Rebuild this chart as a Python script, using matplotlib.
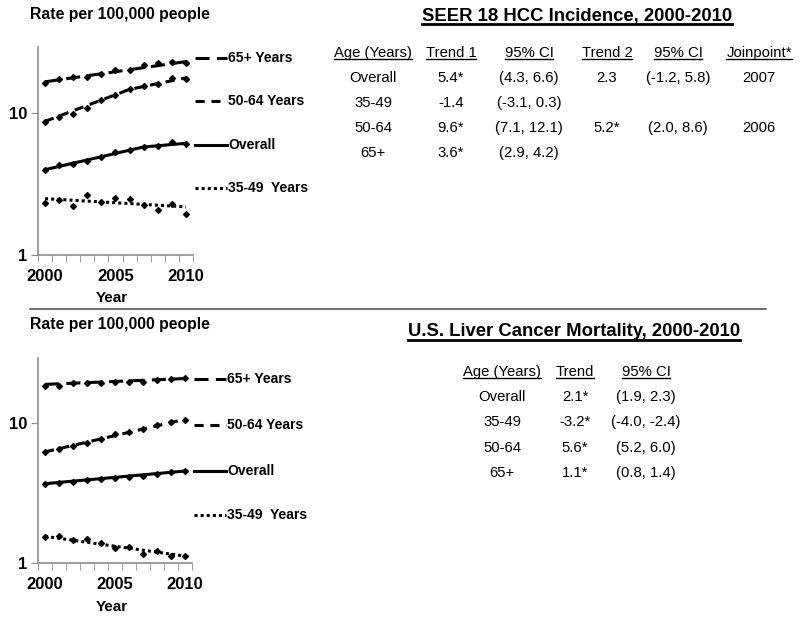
import matplotlib
matplotlib.use("Agg")
import matplotlib.pyplot as plt
import matplotlib.transforms as mtransforms
from matplotlib.lines import Line2D

plt.rcParams['font.family'] = ['Liberation Sans', 'DejaVu Sans']

years = list(range(2000, 2011))

# SEER 18 HCC incidence (rate per 100,000)
inc_65 = [16.2, 17.4, 17.9, 17.9, 18.7, 19.9, 20.1, 21.5, 22.3, 22.6, 22.3]
inc_5064 = [8.66, 9.38, 9.84, 10.8, 12.3, 13.4, 14.6, 15.3, 15.9, 17.5, 17.4]
inc_all = [3.96, 4.29, 4.36, 4.60, 4.91, 5.26, 5.46, 5.76, 5.85, 6.18, 6.01]
inc_3549 = [2.32, 2.42, 2.20, 2.65, 2.36, 2.53, 2.49, 2.23, 2.08, 2.27, 1.93]

# joinpoint trend lines (knot years and fitted values)
inc_fit_65 = ([2000, 2010], [16.5, 22.9])
inc_fit_5064 = ([2000, 2006, 2010], [8.7, 14.6, 17.6])
inc_fit_all = ([2000, 2007, 2010], [3.98, 5.75, 6.1])
inc_fit_3549 = ([2000, 2010], [2.49, 2.18])

# U.S. liver cancer mortality (rate per 100,000)
mort_65 = [18.3, 18.3, 19.1, 19.1, 19.1, 19.6, 19.6, 19.4, 20.1, 20.4, 20.9]
mort_5064 = [6.16, 6.51, 6.88, 7.19, 7.68, 8.34, 8.67, 9.06, 9.67, 10.2, 10.5]
mort_all = [3.69, 3.71, 3.81, 3.88, 3.96, 4.07, 4.14, 4.19, 4.33, 4.43, 4.50]
mort_3549 = [1.53, 1.57, 1.47, 1.49, 1.39, 1.27, 1.30, 1.15, 1.21, 1.12, 1.12]

mort_fit_65 = ([2000, 2010], [18.8, 20.7])
mort_fit_5064 = ([2000, 2010], [6.2, 10.6])
mort_fit_all = ([2000, 2010], [3.68, 4.53])
mort_fit_3549 = ([2000, 2010], [1.55, 1.12])

series_names = ["65+ Years", "50-64 Years", "Overall", "35-49  Years"]
inc_label_y = [24.2, 12.06, 5.95, 2.97]
mort_label_y = [20.4, 9.57, 4.55, 2.19]

inc_title = "SEER 18 HCC Incidence, 2000-2010"
inc_header = ["Age (Years)", "Trend 1", "95% CI", "Trend 2", "95% CI", "Joinpoint*"]
inc_rows = [
    ["Overall", "5.4*", "(4.3, 6.6)", "2.3", "(-1.2, 5.8)", "2007"],
    ["35-49", "-1.4", "(-3.1, 0.3)", "", "", ""],
    ["50-64", "9.6*", "(7.1, 12.1)", "5.2*", "(2.0, 8.6)", "2006"],
    ["65+", "3.6*", "(2.9, 4.2)", "", "", ""],
]

mort_title = "U.S. Liver Cancer Mortality, 2000-2010"
mort_header = ["Age (Years)", "Trend", "95% CI"]
mort_rows = [
    ["Overall", "2.1*", "(1.9, 2.3)"],
    ["35-49", "-3.2*", "(-4.0, -2.4)"],
    ["50-64", "5.6*", "(5.2, 6.0)"],
    ["65+", "1.1*", "(0.8, 1.4)"],
]

W, H = 800, 621
fig = plt.figure(figsize=(W / 100, H / 100), dpi=100)


def fx(x):
    return x / W


def fy(y):
    return 1 - y / H


styles = [(0, (4.6, 2.4)), (0, (3, 2.2)), '-', (0, (1, 1))]
gray = '#8c8c8c'


def draw_panel(ax, data, fits, label_y):
    for vals, fit, ls, name, ly in zip(data, fits, styles, series_names, label_y):
        ax.plot(years, vals, linestyle='none', marker='D', ms=3.0, color='black')
        ax.plot(fit[0], fit[1], linestyle=ls, lw=2.2, color='black')
        tr = mtransforms.blended_transform_factory(ax.transAxes, ax.transData)
        ax.add_line(Line2D([1.013, 1.219], [ly, ly], transform=tr, linestyle=ls,
                           lw=2.2, color='black', clip_on=False))
        ax.text(1.228, ly, name, transform=tr, va='center', ha='left',
                fontsize=10, fontweight='bold')
    ax.set_yscale('log')
    ax.set_ylim(1, 29)
    ax.set_xlim(1999.5, 2010.5)
    ax.set_yticks([1, 10])
    ax.set_yticklabels(['1', '10'])
    ax.yaxis.set_minor_locator(matplotlib.ticker.NullLocator())
    ax.set_xticks([2000, 2005, 2010])
    ax.set_xticklabels(['2000', '2005', '2010'])
    ax.set_xticks([x + 0.5 for x in range(1999, 2011)], minor=True)
    ax.tick_params(axis='x', which='major', length=0, pad=10, labelsize=12)
    ax.tick_params(axis='x', which='minor', length=5, color=gray, direction='out')
    ax.tick_params(axis='y', length=5, color=gray, pad=3, labelsize=12)
    for lab in ax.get_xticklabels() + ax.get_yticklabels():
        lab.set_fontweight('bold')
    for s in ['top', 'right']:
        ax.spines[s].set_visible(False)
    for s in ['left', 'bottom']:
        ax.spines[s].set_color(gray)
        ax.spines[s].set_linewidth(1.2)


ax1 = fig.add_axes([fx(38), fy(255), 155 / W, 208 / H])
draw_panel(ax1, [inc_65, inc_5064, inc_all, inc_3549],
           [inc_fit_65, inc_fit_5064, inc_fit_all, inc_fit_3549], inc_label_y)
ax2 = fig.add_axes([fx(38), fy(563), 154 / W, 205 / H])
draw_panel(ax2, [mort_65, mort_5064, mort_all, mort_3549],
           [mort_fit_65, mort_fit_5064, mort_fit_all, mort_fit_3549], mort_label_y)

fig.text(fx(30), fy(15), "Rate per 100,000 people", fontsize=11.3, fontweight='bold', va='center')
fig.text(fx(30), fy(325), "Rate per 100,000 people", fontsize=11.3, fontweight='bold', va='center')
fig.text(fx(112), fy(298), "Year", fontsize=11, fontweight='bold', ha='center', va='center')
fig.text(fx(112), fy(607), "Year", fontsize=11, fontweight='bold', ha='center', va='center')

# separator
fig.add_artist(Line2D([fx(30), fx(766)], [fy(309), fy(309)], color='#555555', lw=1.2))

underline = []  # (text, linewidth)

t = fig.text(fx(577), fy(16), inc_title, fontsize=13.3, fontweight='bold', ha='center', va='center')
underline.append((t, 2.0))
inc_cols = [373, 451, 529, 607, 678, 759]
for cx, h in zip(inc_cols, inc_header):
    t = fig.text(fx(cx), fy(53), h, fontsize=10.7, ha='center', va='center')
    underline.append((t, 1.0))
for i, row in enumerate(inc_rows):
    for cx, v in zip(inc_cols, row):
        fig.text(fx(cx), fy(78 + 25 * i), v, fontsize=10.7, ha='center', va='center')

t = fig.text(fx(574), fy(332), mort_title, fontsize=13.3, fontweight='bold', ha='center', va='center')
underline.append((t, 2.0))
mort_cols = [502, 575, 646]
for cx, h in zip(mort_cols, mort_header):
    t = fig.text(fx(cx), fy(372), h, fontsize=10.7, ha='center', va='center')
    underline.append((t, 1.0))
for i, row in enumerate(mort_rows):
    for cx, v in zip(mort_cols, row):
        fig.text(fx(cx), fy(397 + 25.3 * i), v, fontsize=10.7, ha='center', va='center')

fig.canvas.draw()
r = fig.canvas.get_renderer()
for t, lw in underline:
    bb = t.get_window_extent(r)
    yl = bb.y0 + 1
    fig.add_artist(Line2D([bb.x0 / W, bb.x1 / W], [yl / H, yl / H], color='black', lw=lw))

fig.savefig("out.png", dpi=100)
